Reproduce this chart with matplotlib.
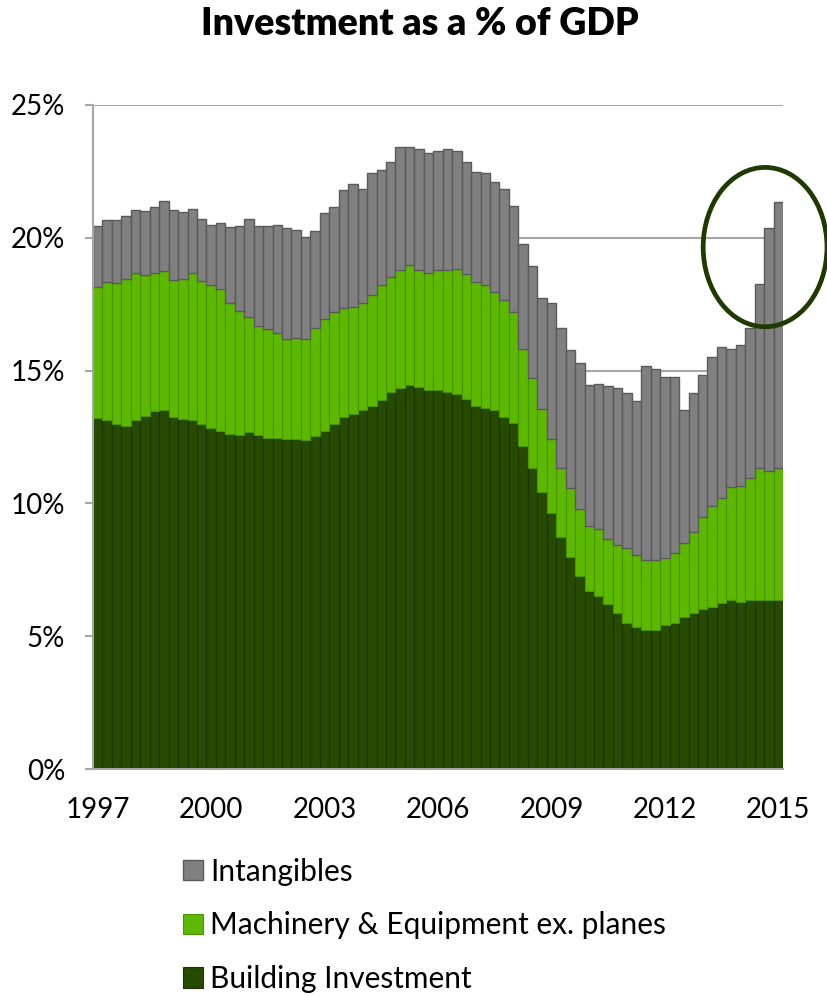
import matplotlib
matplotlib.use("Agg")
import matplotlib.pyplot as plt
from matplotlib.patches import Ellipse
import numpy as np

plt.rcParams['font.family'] = ['Lato', 'DejaVu Sans']

# quarterly data, 1997Q1 - 2015Q1 (% of GDP)
building = [13.23, 13.14, 13.00, 12.93, 13.13, 13.30, 13.47, 13.52, 13.25, 13.19,
            13.14, 13.00, 12.85, 12.71, 12.62, 12.59, 12.69, 12.59, 12.47, 12.47,
            12.41, 12.41, 12.39, 12.55, 12.74, 12.98, 13.27, 13.38, 13.52, 13.67,
            13.89, 14.18, 14.33, 14.44, 14.37, 14.27, 14.26, 14.21, 14.11, 13.92,
            13.68, 13.58, 13.52, 13.27, 13.02, 12.16, 11.32, 10.43, 9.63, 8.72,
            7.97, 7.28, 6.71, 6.51, 6.20, 5.86, 5.51, 5.33, 5.23, 5.23,
            5.42, 5.51, 5.71, 5.86, 6.01, 6.11, 6.24, 6.36, 6.30, 6.36,
            6.36, 6.35, 6.35]
machinery = [4.91, 5.18, 5.29, 5.53, 5.53, 5.29, 5.19, 5.24, 5.16, 5.25,
             5.52, 5.39, 5.36, 5.35, 4.94, 4.65, 4.34, 4.09, 4.08, 3.93,
             3.77, 3.80, 3.79, 4.04, 4.20, 4.22, 4.08, 4.00, 4.04, 4.19,
             4.34, 4.33, 4.46, 4.54, 4.42, 4.42, 4.52, 4.58, 4.72, 4.73,
             4.64, 4.64, 4.43, 4.39, 4.18, 3.64, 3.39, 3.11, 2.78, 2.60,
             2.60, 2.51, 2.45, 2.53, 2.47, 2.59, 2.80, 2.73, 2.64, 2.64,
             2.54, 2.61, 2.81, 3.05, 3.48, 3.81, 3.96, 4.27, 4.36, 4.61,
             4.96, 4.88, 4.97]
intangibles = [2.32, 2.35, 2.38, 2.36, 2.39, 2.43, 2.51, 2.63, 2.64, 2.53,
               2.44, 2.31, 2.26, 2.49, 2.86, 3.20, 3.67, 3.76, 3.88, 4.07,
               4.20, 4.10, 3.84, 3.68, 4.01, 3.96, 4.45, 4.65, 4.27, 4.59,
               4.32, 4.33, 4.63, 4.44, 4.54, 4.51, 4.48, 4.57, 4.45, 4.20,
               4.16, 4.22, 4.14, 4.18, 4.00, 3.98, 4.23, 4.21, 5.15, 5.27,
               5.21, 5.48, 5.30, 5.47, 5.76, 5.91, 5.86, 5.80, 7.30, 7.18,
               6.81, 6.65, 5.00, 5.24, 5.34, 5.58, 5.69, 5.18, 5.30, 5.65,
               6.94, 9.15, 10.04]
years = ['1997', '2000', '2003', '2006', '2009', '2012', '2015']

x = np.arange(len(building))
b = np.array(building)
m = np.array(machinery)

fig = plt.figure(figsize=(8.28, 9.96), dpi=100)
ax = fig.add_axes([0.1123, 0.2279, 0.8334, 0.6667])

h_dark = ax.bar(x, building, width=1.0, color='#254a00', edgecolor='#1a3300', linewidth=0.8)
h_green = ax.bar(x, machinery, bottom=b, width=1.0, color='#5cb800', edgecolor='#4a9400', linewidth=0.8)
h_grey = ax.bar(x, intangibles, bottom=b + m, width=1.0, color='#808080', edgecolor='#5a5a5a', linewidth=1.0)

ax.set_xlim(-0.5, len(x) - 0.5)
ax.set_ylim(0, 25)
ax.set_yticks([0, 5, 10, 15, 20, 25])
ax.set_yticklabels(['0%', '5%', '10%', '15%', '20%', '25%'])
ax.set_xticks(np.arange(0, len(x), 12))
ax.set_xticklabels(years)
ax.yaxis.grid(True, color='#a6a6a6', linewidth=1.5)
ax.set_axisbelow(True)
for s in ['top', 'right']:
    ax.spines[s].set_visible(False)
for s in ['left', 'bottom']:
    ax.spines[s].set_color('#a6a6a6')
    ax.spines[s].set_linewidth(1.5)
ax.tick_params(axis='y', length=6, width=1.5, color='#a6a6a6', labelsize=20, pad=14)
ax.tick_params(axis='x', length=0, labelsize=20, pad=20)

# circle around the recent jump
ax.add_patch(Ellipse((70.6, 19.65), 13.1, 6.0, fill=False, edgecolor='#1e3a00',
                     linewidth=3.4, clip_on=False))

fig.suptitle('Investment as a % of GDP', fontsize=27, fontweight='heavy', x=0.507, y=0.993)

fig.legend([h_grey, h_green, h_dark],
           ['Intangibles', 'Machinery & Equipment ex. planes', 'Building Investment'],
           loc='upper left', bbox_to_anchor=(0.221, 0.139), frameon=False,
           fontsize=21.5, handlelength=0.67, handleheight=0.67, handletextpad=0.23,
           labelspacing=0.86, borderpad=0, borderaxespad=0)

fig.savefig('out.png', dpi=100)
